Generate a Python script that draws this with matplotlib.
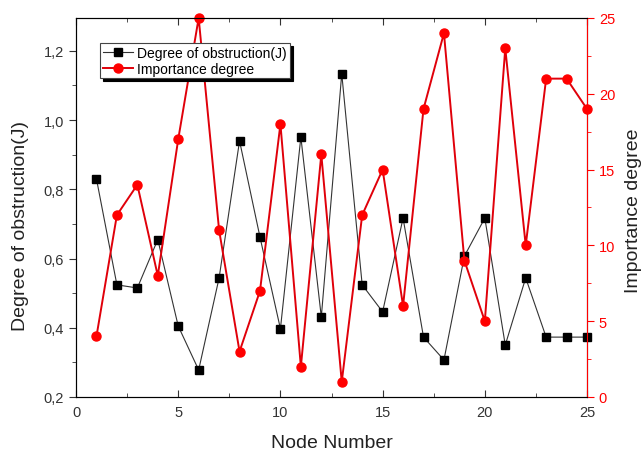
import matplotlib
matplotlib.use("Agg")
import matplotlib.pyplot as plt
from matplotlib.ticker import MultipleLocator, FuncFormatter

nodes = list(range(1, 26))
obstruction = [0.83, 0.524, 0.515, 0.655, 0.405, 0.278, 0.544, 0.94, 0.662, 0.397,
               0.951, 0.431, 1.134, 0.524, 0.446, 0.717, 0.373, 0.307, 0.607, 0.717,
               0.35, 0.544, 0.373, 0.373, 0.373]
importance = [4, 12, 14, 8, 17, 25, 11, 3, 7, 18, 2, 16, 1, 12, 15, 6, 19, 24, 9, 5,
              23, 10, 21, 21, 19]

plt.rcParams['font.family'] = ['Liberation Sans', 'DejaVu Sans']

fig = plt.figure(figsize=(6.41, 4.6), dpi=100)
ax = fig.add_axes([0.1186, 0.1348, 0.7972, 0.8239])
ax2 = ax.twinx()

l1, = ax.plot(nodes, obstruction, color='#333333', lw=0.8, marker='s', ms=6,
              mfc='black', mec='black', label='Degree of obstruction(J)', clip_on=False)
l2, = ax2.plot(nodes, importance, color='#e0000a', lw=1.4, marker='o', ms=6.5,
               mfc='red', mec='red', label='Importance degree', clip_on=False)

ax.set_xlim(0, 25)
ax.set_ylim(0.2, 1.295)
ax2.set_ylim(0, 25)

ax.xaxis.set_major_locator(MultipleLocator(5))
ax.xaxis.set_minor_locator(MultipleLocator(2.5))
ax.yaxis.set_major_locator(MultipleLocator(0.2))
ax.yaxis.set_minor_locator(MultipleLocator(0.1))
ax.yaxis.set_major_formatter(FuncFormatter(lambda v, p: f"{v:.1f}".replace('.', ',')))
ax2.yaxis.set_major_locator(MultipleLocator(5))
ax2.yaxis.set_minor_locator(MultipleLocator(2.5))

# left ticks out, bottom/top ticks in (Origin style)
ax.tick_params(axis='y', which='both', direction='out', labelsize=10.5, colors='#333333')
ax.tick_params(axis='x', which='both', direction='in', top=True, labelsize=10.5,
               colors='#333333', pad=6)
ax.tick_params(axis='both', which='major', length=5)
ax.tick_params(axis='both', which='minor', length=3)
ax2.tick_params(axis='y', which='both', direction='out', colors='red', labelsize=10.5)
ax2.tick_params(axis='y', which='major', length=5)
ax2.tick_params(axis='y', which='minor', length=3)
ax2.spines['right'].set_color('red')
for s in ['left', 'bottom', 'top']:
    ax.spines[s].set_color('#333333')

ax.set_xlabel('Node Number', fontsize=14, color='#222222')
ax.set_ylabel('Degree of obstruction(J)', fontsize=14, color='#222222')
ax2.set_ylabel('Importance degree', fontsize=14, color='#222222')
ax.xaxis.set_label_coords(0.501, -0.098)
ax.yaxis.set_label_coords(-0.092, 0.454)
ax2.yaxis.set_label_coords(1.074, 0.493)

leg = ax2.legend(handles=[l1, l2], loc='upper left', bbox_to_anchor=(0.145, 0.92),
                 bbox_transform=fig.transFigure, fontsize=10, fancybox=False,
                 shadow={'color': 'black', 'alpha': 1}, framealpha=1,
                 borderpad=0.2, handlelength=2.2, handletextpad=0.3, labelspacing=0.15)
leg.get_frame().set_edgecolor('#444444')
leg.get_frame().set_linewidth(0.8)

fig.savefig('out.png', dpi=100)
